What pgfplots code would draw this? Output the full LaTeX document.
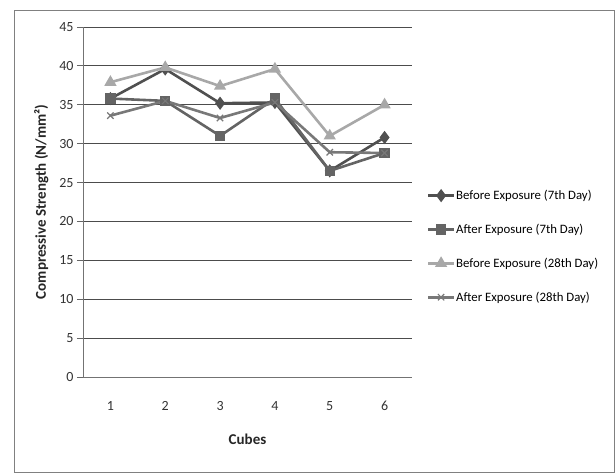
\documentclass[border=0pt]{standalone}
\usepackage{pgfplots}
\pgfplotsset{compat=1.18}
\usepackage{fontspec}
\setmainfont{Carlito}

\definecolor{c1}{RGB}{80,80,80}
\definecolor{c2}{RGB}{100,100,100}
\definecolor{c3}{RGB}{168,168,168}
\definecolor{c4}{RGB}{120,120,120}

\begin{document}
\begin{tikzpicture}
\begin{axis}[
scale only axis,
width=329pt, height=350pt,
xmin=0.5, xmax=6.5,
ymin=0, ymax=45,
xtick={1,2,3,4,5,6},
ytick={0,5,...,45},
major x tick style={draw=none},
ytick style={color=black!60, line width=0.8pt},
tick align=outside,
tick pos=left,
major tick length=6pt,
axis x line*=bottom,
axis y line*=left,
axis line style={black!55, line width=0.8pt},
ymajorgrids,
y grid style={black!70, line width=0.9pt},
tick label style={font=\fontsize{14}{16}\selectfont, text=black!80},
xticklabel style={yshift=-15pt},
/pgf/number format/assume math mode=true,
xlabel={\textbf{Cubes}},
ylabel={\textbf{Compressive Strength (N/mm²)}},
label style={font=\fontsize{15}{17}\selectfont, text=black!85},
xlabel style={yshift=-16pt},
ylabel style={yshift=4pt},
legend cell align={left},
legend style={draw=none, fill=none, at={(1.045,0.54)}, anchor=north west,
  font=\fontsize{12.8}{14}\selectfont, row sep=19pt, inner sep=0pt,
  /tikz/every even column/.append style={column sep=0pt},
  nodes={inner xsep=1pt}},
legend image code/.code={
  \draw[#1, mark repeat=2, mark phase=2] plot coordinates {(0cm,0cm) (0.45cm,0cm) (0.9cm,0cm)};
},
]
\addplot [line width=2.6pt, c1, mark=diamond*, mark size=4.5pt, mark options={solid}]
coordinates {(1,35.8) (2,39.6) (3,35.2) (4,35.3) (5,26.5) (6,30.8)};
\addlegendentry{Before Exposure (7th Day)}
\addplot [line width=2.6pt, c2, mark=square*, mark size=3.8pt, mark options={solid}]
coordinates {(1,35.8) (2,35.5) (3,31.0) (4,35.8) (5,26.5) (6,28.8)};
\addlegendentry{After Exposure (7th Day)}
\addplot [line width=2.6pt, c3, mark=triangle*, mark size=4.5pt, mark options={solid}]
coordinates {(1,37.9) (2,39.8) (3,37.4) (4,39.6) (5,31.0) (6,35.0)};
\addlegendentry{Before Exposure (28th Day)}
\addplot [line width=2.6pt, c4, mark=x, mark size=4.5pt, mark options={solid, line width=1.2pt}]
coordinates {(1,33.6) (2,35.5) (3,33.3) (4,35.3) (5,28.9) (6,28.8)};
\addlegendentry{After Exposure (28th Day)}
\end{axis}
\path[use as bounding box] (-83pt,-97pt) rectangle (532pt,377pt);
\draw[black!50, line width=0.8pt] (-69pt,-95pt) rectangle (531pt,367pt);
\end{tikzpicture}
\end{document}
